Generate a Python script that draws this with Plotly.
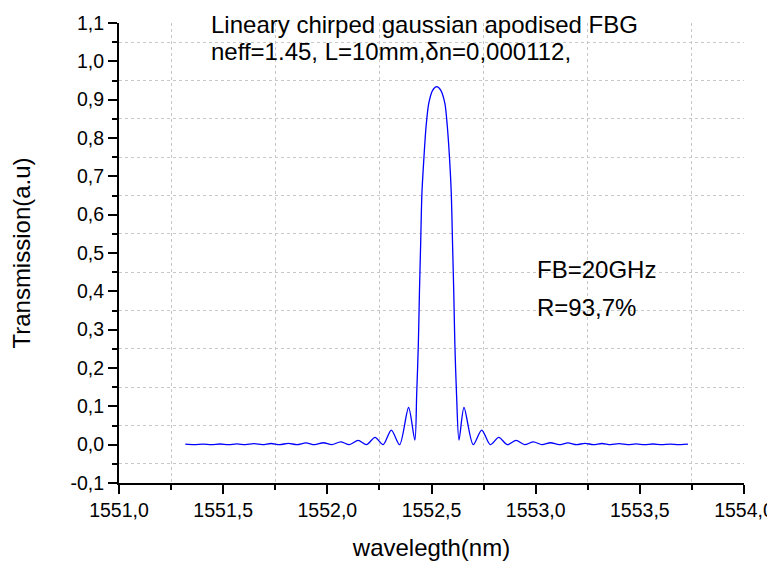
import plotly.graph_objects as go

# Reflection spectrum (wavelength nm, transmission a.u.)
wavelength = [
    1551.318, 1551.362, 1551.403, 1551.444, 1551.485, 1551.525, 1551.566, 1551.607,
    1551.648, 1551.689, 1551.730, 1551.771, 1551.813, 1551.855, 1551.897, 1551.939,
    1551.981, 1552.022, 1552.064, 1552.106, 1552.148, 1552.188, 1552.229, 1552.268,
    1552.307, 1552.347, 1552.390, 1552.420,
    1552.429, 1552.437, 1552.442, 1552.448, 1552.454, 1552.463, 1552.474, 1552.487,
    1552.506, 1552.525, 1552.544, 1552.564, 1552.576, 1552.587, 1552.595, 1552.601,
    1552.607, 1552.612, 1552.620, 1552.632,
    1552.656, 1552.700, 1552.741, 1552.782, 1552.823, 1552.864, 1552.906, 1552.947,
    1552.989, 1553.030, 1553.071, 1553.113, 1553.155, 1553.196, 1553.237, 1553.277,
    1553.318, 1553.359, 1553.400, 1553.441, 1553.482, 1553.522, 1553.563, 1553.604,
    1553.645, 1553.686, 1553.726, 1553.731,
]
transmission = [
    0.0012, 0.0, 0.0015, 0.0, 0.0018, 0.0, 0.0020, 0.0,
    0.0025, 0.0, 0.0030, 0.0, 0.0035, 0.0, 0.0045, 0.0,
    0.0050, 0.0, 0.0075, 0.0, 0.0110, 0.0, 0.0190, 0.0,
    0.0380, 0.0, 0.0970, 0.0120,
    0.134, 0.265, 0.395, 0.525, 0.656, 0.743, 0.830, 0.891,
    0.925, 0.934, 0.925, 0.891, 0.830, 0.743, 0.656, 0.525,
    0.395, 0.265, 0.134, 0.0120,
    0.0970, 0.0, 0.0380, 0.0, 0.0190, 0.0, 0.0110, 0.0,
    0.0075, 0.0, 0.0050, 0.0, 0.0045, 0.0, 0.0035, 0.0,
    0.0030, 0.0, 0.0025, 0.0, 0.0020, 0.0, 0.0018, 0.0,
    0.0015, 0.0, 0.0012, 0.0010,
]

x_range = [1551.0, 1554.0]
y_range = [-0.1, 1.1]
y_tick_values = [-0.1, 0.0, 0.1, 0.2, 0.3, 0.4, 0.5, 0.6, 0.7, 0.8, 0.9, 1.0, 1.1]
y_tick_labels = ["-0,1", "0,0", "0,1", "0,2", "0,3", "0,4", "0,5", "0,6",
                 "0,7", "0,8", "0,9", "1,0", "1,1"]
x_title = "wavelegth(nm)"
y_title = "Transmission(a.u)"
title_lines = ["Lineary chirped gaussian apodised FBG", "neff=1.45, L=10mm,δn=0,000112,"]
info_lines = ["FB=20GHz", "R=93,7%"]

FONT = "Liberation Sans, Arial, Helvetica, sans-serif"

fig = go.Figure()
fig.add_trace(go.Scatter(
    x=wavelength, y=transmission, mode="lines",
    line=dict(color="#0000FF", width=1.3, shape="spline", smoothing=0.8),
    showlegend=False,
))

axis_common = dict(
    showline=True, linewidth=2, linecolor="black",
    ticks="outside", ticklen=9, tickwidth=2, tickcolor="black",
    showgrid=False, zeroline=False, mirror=False, automargin=False,
    tickfont=dict(family=FONT, size=19.5, color="black"),
    title_font=dict(family=FONT, size=24, color="black"),
)

fig.update_xaxes(
    range=x_range, tick0=1551.0, dtick=0.5, tickformat=".1f",
    title_text=x_title, title_standoff=21,
    minor=dict(tick0=1551.0, dtick=0.25, ticks="outside", ticklen=5, tickwidth=2,
               tickcolor="black", showgrid=True, gridcolor="#c8c8c8", gridwidth=1,
               griddash="dot"),
    **axis_common,
)
fig.update_yaxes(
    range=y_range, tickmode="array", tickvals=y_tick_values, ticktext=y_tick_labels,
    title_text=y_title, title_standoff=34,
    minor=dict(tickmode="linear", tick0=0.05, dtick=0.1, ticks="outside", ticklen=5,
               tickwidth=2, tickcolor="black", showgrid=True, gridcolor="#c8c8c8",
               gridwidth=1, griddash="dot"),
    **axis_common,
)

ann_font = dict(family=FONT, size=24, color="black")
fig.add_annotation(x=1551.43, y=1.096, xref="x", yref="y", text=title_lines[0],
                   showarrow=False, xanchor="left", yanchor="middle", font=ann_font)
fig.add_annotation(x=1551.43, y=1.025, xref="x", yref="y", text=title_lines[1],
                   showarrow=False, xanchor="left", yanchor="middle", font=ann_font)
fig.add_annotation(x=1552.995, y=0.456, xref="x", yref="y", text=info_lines[0],
                   showarrow=False, xanchor="left", yanchor="middle", font=ann_font)
fig.add_annotation(x=1552.995, y=0.358, xref="x", yref="y", text=info_lines[1],
                   showarrow=False, xanchor="left", yanchor="middle", font=ann_font)

# The page body adds an 8px offset, so the plot area is placed to compensate.
fig.update_layout(
    width=775, height=553,
    margin=dict(l=111, r=39, t=15, b=78),
    paper_bgcolor="white", plot_bgcolor="white",
    separators=",.",
    font=dict(family=FONT, color="black"),
)

fig.write_html("out.html")
